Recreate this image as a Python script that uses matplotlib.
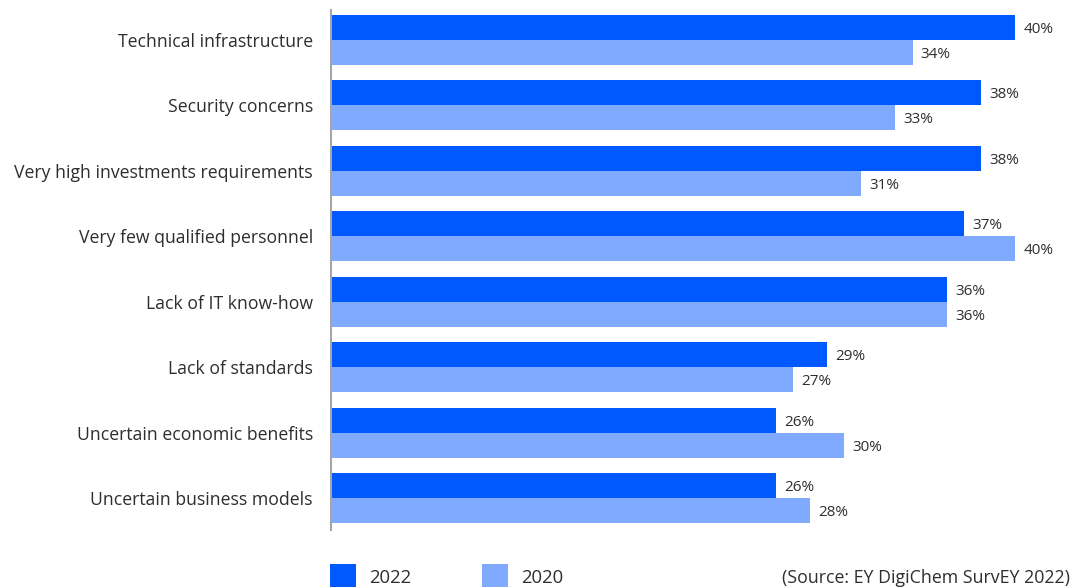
import matplotlib
matplotlib.use("Agg")
import matplotlib.pyplot as plt
from matplotlib.patches import Rectangle

plt.rcParams['font.family'] = ['Open Sans', 'DejaVu Sans']

# data
categories = ['Technical infrastructure', 'Security concerns', 'Very high investments requirements',
              'Very few qualified personnel', 'Lack of IT know-how', 'Lack of standards',
              'Uncertain economic benefits', 'Uncertain business models']
vals_2022 = [40, 38, 38, 37, 36, 29, 26, 26]
vals_2020 = [34, 33, 31, 40, 36, 27, 30, 28]
series_names = ['2022', '2020']
source_text = '(Source: EY DigiChem SurvEY 2022)'

c_dark = '#0058ff'
c_light = '#80aaff'
txt = '#2e2e2e'

W, H = 1075, 587
fig = plt.figure(figsize=(W / 100, H / 100), dpi=100)
# axes from x=331..1075 px, y=10..530 px
ax = fig.add_axes([331 / W, 1 - 530 / H, (W - 331) / W, 520 / H])

bh = 25 / 66
ys = list(range(len(categories)))
y1 = [y - bh / 2 for y in ys]
y2 = [y + bh / 2 for y in ys]
ax.barh(y1, vals_2022, height=bh, color=c_dark, linewidth=0)
ax.barh(y2, vals_2020, height=bh, color=c_light, linewidth=0)

for y, v in zip(y1, vals_2022):
    ax.annotate(f'{v}%', (v, y), xytext=(6, -1.5), textcoords='offset points',
                va='center', ha='left', fontsize=11, color=txt, fontweight=350)
for y, v in zip(y2, vals_2020):
    ax.annotate(f'{v}%', (v, y), xytext=(6, -1.5), textcoords='offset points',
                va='center', ha='left', fontsize=11, color=txt, fontweight=350)

ax.set_xlim(0, 43.5)
ax.set_ylim(7.485, -0.4545)
ax.set_yticks(ys)
ax.set_yticklabels(categories, fontsize=12.7, color=txt, fontweight=350)
ax.tick_params(axis='y', length=0, pad=13)
ax.set_xticks([])
for s in ['top', 'right', 'bottom']:
    ax.spines[s].set_visible(False)
ax.spines['left'].set_color('#a6a6a6')
ax.spines['left'].set_linewidth(1.5)

# legend drawn by hand at the bottom
for x0, col, name in [(330, c_dark, series_names[0]), (482, c_light, series_names[1])]:
    fig.add_artist(Rectangle((x0 / W, 0), 26 / W, 23 / H, transform=fig.transFigure,
                             color=col, linewidth=0))
    fig.text((x0 + 39) / W, 1 - 578 / H, name, fontsize=13.3, color=txt, va='center',
             ha='left', fontweight=350)

fig.text(1070 / W, 1 - 578 / H, source_text, fontsize=12.8, color=txt, va='center',
         ha='right', fontweight=350)

fig.savefig('out.png', dpi=100)
